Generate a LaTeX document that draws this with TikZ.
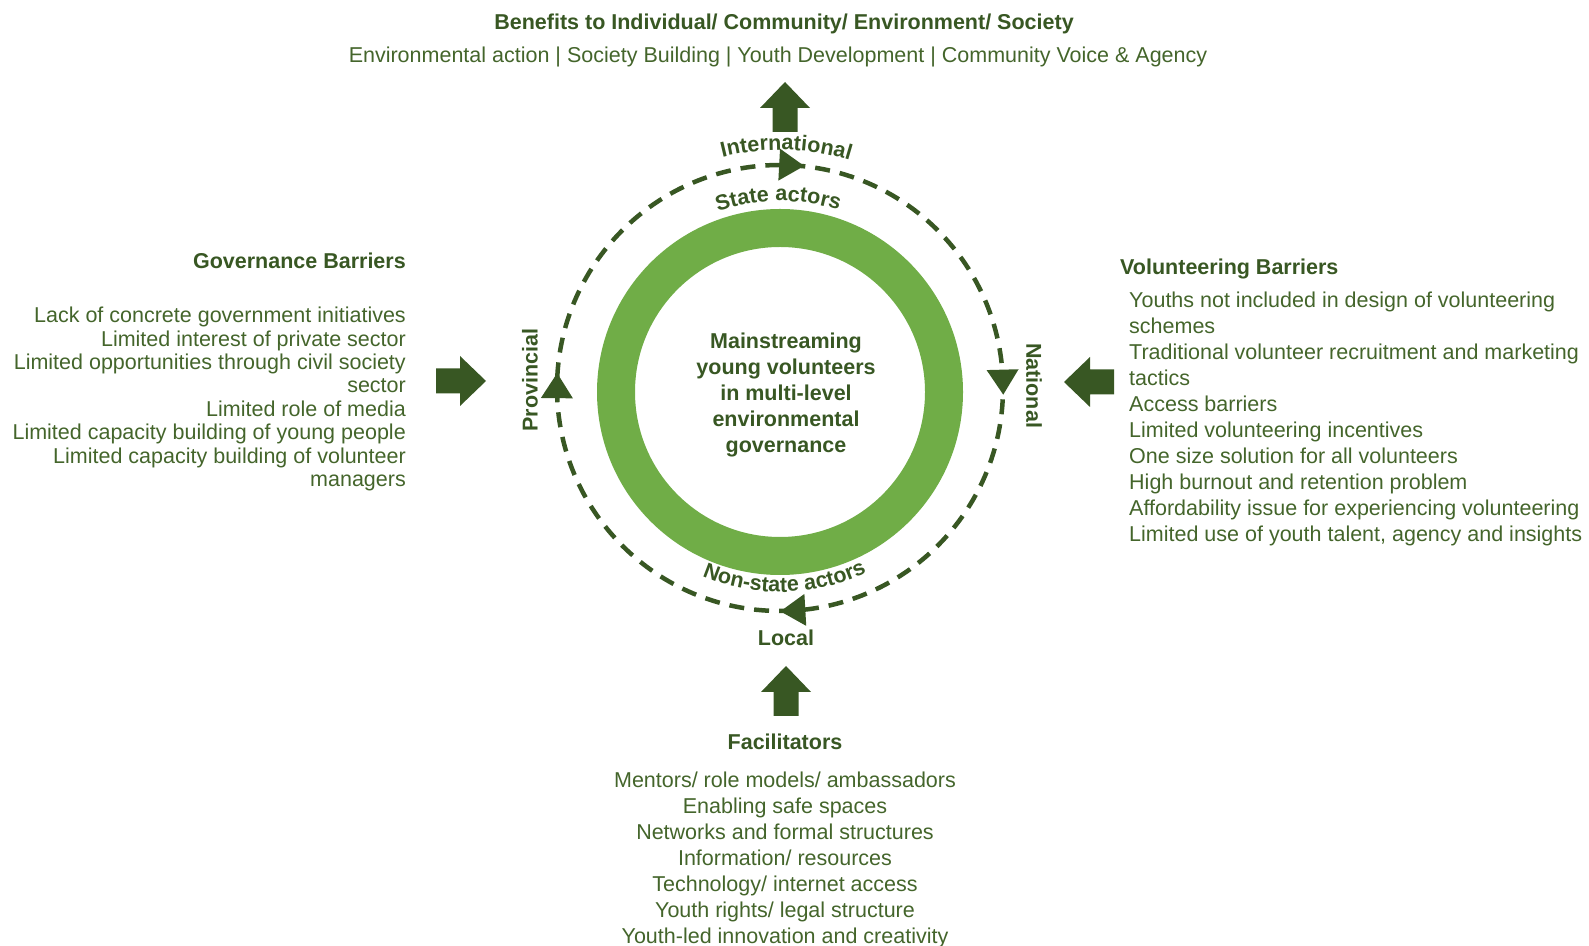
\documentclass[tikz,border=0pt]{standalone}
\usepackage{fontspec}
\setmainfont{Liberation Sans}
\usetikzlibrary{decorations.text}
\definecolor{leaf}{HTML}{70AD47}
\definecolor{forest}{HTML}{385723}
\definecolor{listgreen}{HTML}{44652B}
\newcommand\arcfont{\fontsize{21.5}{26}\selectfont\bfseries\color{forest}}
\begin{document}
\begin{tikzpicture}[x=1pt,y=1pt,
  body/.style={font=\fontsize{21.5}{26}\selectfont, text=listgreen, inner sep=0pt},
  head/.style={font=\fontsize{21.5}{26}\selectfont\bfseries, text=forest, inner sep=0pt},
  blockarrow/.pic={\fill[forest] (0,-12.5) -- (24,-12.5) -- (24,-25) -- (50,0)
      -- (24,25) -- (24,12.5) -- (0,12.5) -- cycle;},
  cyclehead/.pic={\fill[forest] (223,-12.5) -- (207,12.5) -- (239,12.5) -- cycle;}]
\useasboundingbox (0,0) rectangle (1589,945);

% centres of the ring and of the dashed cycle
\coordinate (ringc) at (780,553);
\coordinate (cyc) at (780,557);

% green ring
\draw[leaf, line width=38] (ringc) circle[radius=164];

% dashed cycle with its four arrowheads (clockwise)
\draw[forest, line width=4.5, dash pattern=on 15 off 10] (cyc) circle[radius=223];
\foreach \a in {87, 1.5, 273.3, 179.4}
  \pic[shift={(cyc)}, rotate=\a] {cyclehead};

% core text (anchored on the baseline of its last line)
\node[head, align=center, anchor=base] (core) at (786,492)
  {Mainstreaming\\young volunteers\\in multi-level\\environmental\\governance};

% labels on the cycle
\path[decorate, decoration={text along path, text align=center,
   text={|\arcfont|International}}]
  (cyc) ++(118.5:238) arc[start angle=118.5, end angle=58.5, radius=238];
\path[decorate, decoration={text along path, text align=center,
   text={|\arcfont|State actors}}]
  (ringc) ++(120.5:191) arc[start angle=120.5, end angle=60.5, radius=191];
\path[decorate, decoration={text along path, text align=center,
   text={|\arcfont|Non-state actors}}]
  (ringc) ++(236.4:200) arc[start angle=236.4, end angle=306.4, radius=200];
\node[head, rotate=90] (prov) at (530,565) {Provincial};
\node[head, rotate=-90] (natl) at (1034,559.4) {National};
\node[head, anchor=base] (local) at (786,299.5) {Local};

% block arrows
\pic at (785,813) [rotate=90] {blockarrow};
\pic at (786,229) [rotate=90] {blockarrow};
\pic at (436,564) {blockarrow};
\pic at (1114,563) [rotate=180] {blockarrow};

% benefits
\node[head, anchor=base] (benefits) at (784,915.6)
  {Benefits to Individual/ Community/ Environment/ Society};
\node[body, anchor=base] (benefitlist) at (778,882.2)
  {Environmental action | Society Building | Youth Development | Community Voice \& Agency};

% governance barriers
\node[head, anchor=base east] (govhead) at (406,676.4) {Governance Barriers};
\node[body, font=\fontsize{21.5}{23.4}\selectfont, align=right, anchor=base east] (govlist) at (406,458.5)
  {Lack of concrete government initiatives\\
   Limited interest of private sector\\
   Limited opportunities through civil society\\
   sector\\
   Limited role of media\\
   Limited capacity building of young people\\
   Limited capacity building of volunteer\\
   managers};

% volunteering barriers
\node[head, anchor=base west] (volhead) at (1120,670.4) {Volunteering Barriers};
\node[body, align=left, anchor=base west] (vollist) at (1129,403)
  {Youths not included in design of volunteering\\
   schemes\\
   Traditional volunteer recruitment and marketing\\
   tactics\\
   Access barriers\\
   Limited volunteering incentives\\
   One size solution for all volunteers\\
   High burnout and retention problem\\
   Affordability issue for experiencing volunteering\\
   Limited use of youth talent, agency and insights};

% facilitators
\node[head, anchor=base] (fachead) at (785,195) {Facilitators};
\node[body, font=\fontsize{21.5}{25.9}\selectfont, align=center, anchor=base] (faclist) at (785,2)
  {Mentors/ role models/ ambassadors\\
   Enabling safe spaces\\
   Networks and formal structures\\
   Information/ resources\\
   Technology/ internet access\\
   Youth rights/ legal structure\\
   Youth-led innovation and creativity};
\end{tikzpicture}
\end{document}
